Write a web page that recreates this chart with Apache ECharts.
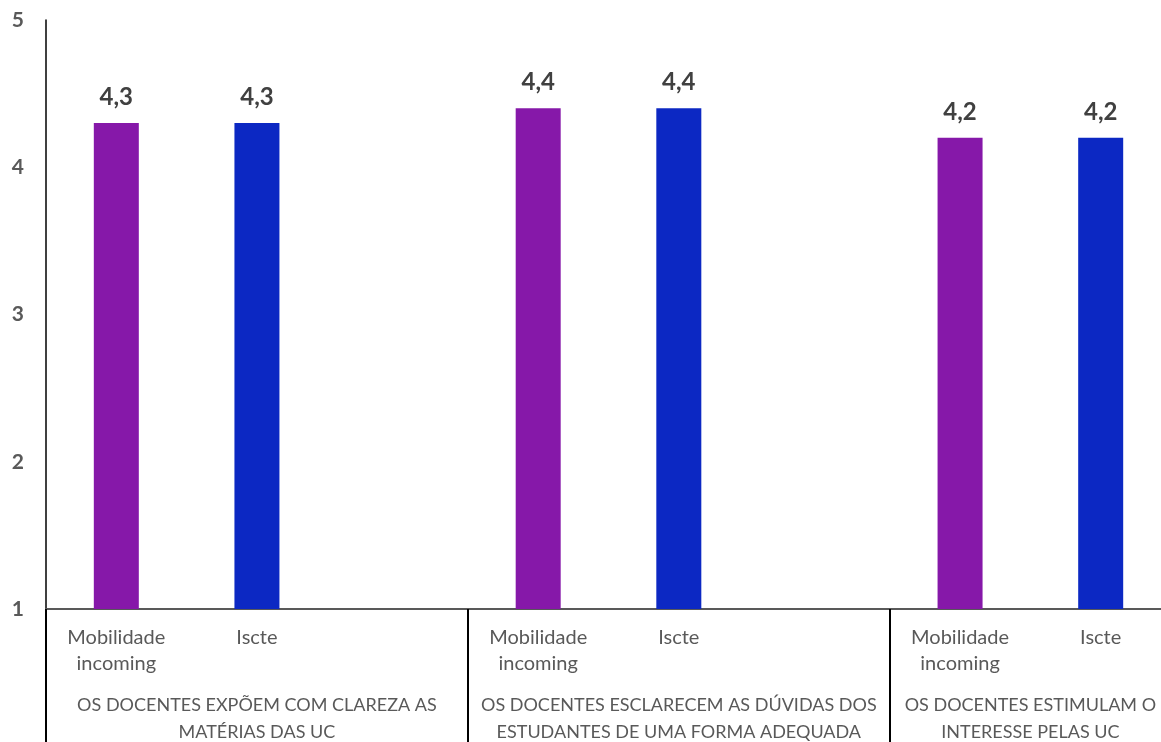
<!DOCTYPE html>
<html>
<head>
<meta charset="utf-8">
<script src="https://cdn.jsdelivr.net/npm/echarts@6/dist/echarts.min.js"></script>
<style>
html,body{margin:0;padding:0;background:#fff;}
#chart{width:1161px;height:742px;}
</style>
</head>
<body>
<div id="chart"></div>
<script>
// ---- data ----
var groups = [
  'OS DOCENTES EXPÕEM COM CLAREZA AS\nMATÉRIAS DAS UC',
  'OS DOCENTES ESCLARECEM AS DÚVIDAS DOS\nESTUDANTES DE UMA FORMA ADEQUADA',
  'OS DOCENTES ESTIMULAM O\nINTERESSE PELAS UC'
];
var seriesNames = ['Mobilidade\nincoming', 'Iscte'];
var mobilidade = [4.3, 4.4, 4.2];
var iscte = [4.3, 4.4, 4.2];
var yTicks = [1, 2, 3, 4, 5];

// ---- build slots (each group: two bars + spacer, last group without spacer) ----
var cats = [], mobData = [], iscData = [], groupCenters = [], groupBounds = [0];
var pos = 0;
groups.forEach(function (g, i) {
  cats.push(seriesNames[0]); mobData.push(mobilidade[i]); iscData.push('-');
  cats.push(seriesNames[1]); mobData.push('-'); iscData.push(iscte[i]);
  var n = 2;
  if (i < groups.length - 1) { cats.push(''); mobData.push('-'); iscData.push('-'); n = 3; }
  groupCenters.push(pos + n / 2);
  pos += n;
  groupBounds.push(pos);
});

var FONT = 'Lato';
var chart = echarts.init(document.getElementById('chart'));
var valueLabel = {
  show: true, position: 'top', distance: 14,
  fontFamily: FONT, fontWeight: 'bold', fontSize: 24, color: '#404040',
  formatter: function (p) { return String(p.value).replace('.', ','); }
};
chart.setOption({
  animation: false,
  grid: { left: 46, top: 20, width: 1125, height: 589, containLabel: false, outerBoundsMode: 'none' },
  xAxis: [
    {
      type: 'category', data: cats, position: 'bottom',
      axisLine: { show: true, lineStyle: { color: '#595959', width: 2 } },
      axisTick: { show: false },
      axisLabel: { interval: 0, fontFamily: FONT, fontSize: 20, color: '#595959', lineHeight: 25.5, margin: 16 },
      splitLine: { show: false }
    },
    {
      type: 'value', min: 0, max: pos, position: 'bottom',
      axisLine: { show: false },
      splitLine: { show: false },
      axisTick: { show: true, inside: false, length: 134, customValues: groupBounds, lineStyle: { color: '#000', width: 2 } },
      axisLabel: {
        show: true, customValues: groupCenters, margin: 83,
        fontFamily: FONT, fontSize: 18, color: '#595959', lineHeight: 27, align: 'center',
        formatter: function (v) {
          var i = groupCenters.indexOf(v);
          return i >= 0 ? groups[i] : '';
        }
      }
    }
  ],
  yAxis: {
    type: 'value', min: yTicks[0], max: yTicks[yTicks.length - 1], interval: 1,
    axisLine: { show: true, lineStyle: { color: '#000', width: 1.5 } },
    axisTick: { show: false },
    splitLine: { show: false },
    axisLabel: { fontFamily: FONT, fontWeight: 'bold', fontSize: 21, color: '#595959', margin: 22 }
  },
  series: [
    {
      name: 'Mobilidade incoming', type: 'bar', xAxisIndex: 0, data: mobData,
      barWidth: 45, barGap: '-100%',
      itemStyle: { color: '#8618A9' }, label: valueLabel
    },
    {
      name: 'Iscte', type: 'bar', xAxisIndex: 0, data: iscData,
      barWidth: 45, barGap: '-100%',
      itemStyle: { color: '#0C28C3' }, label: valueLabel
    }
  ]
});
</script>
</body>
</html>
